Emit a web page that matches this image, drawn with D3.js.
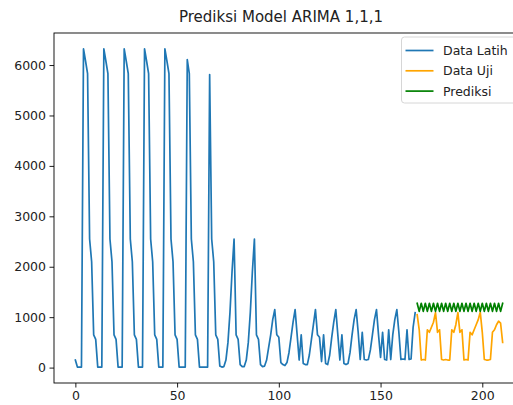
<!DOCTYPE html>
<html>
<head>
<meta charset="utf-8">
<script src="https://cdn.jsdelivr.net/npm/d3@7"></script>
<style>
  body { margin: 0; background: #fff; }
  svg { display: block; font-family: "DejaVu Sans", sans-serif; }
</style>
</head>
<body>
<script>
// training data (index 0..167)
var dataLatih = [
  150, 10, 10, 10,
  6320, 6080, 5830, 2550, 2100, 650, 560, 10, 10, 10,
  6320, 6080, 5830, 2550, 2100, 650, 560, 10, 10, 10,
  6320, 6080, 5830, 2550, 2100, 650, 560, 10, 10, 10,
  6320, 6080, 5830, 2550, 2100, 650, 560, 10, 10, 10,
  6320, 6080, 5830, 2550, 2100, 650, 560, 10, 10, 10, 10,
  6110, 5830, 2550, 2100, 650, 560, 10, 10, 10, 10, 10,
  5810, 2550, 2100, 650, 560, 30, 10, 20, 150, 500, 1100, 1900,
  2550, 650, 560, 60, 20, 20, 150, 500, 1100, 1900,
  2550, 650, 560, 60, 20, 30, 150, 400, 650, 950,
  1150, 650, 600, 100, 60, 40, 100, 300, 600, 900,
  1150, 650, 150, 650, 80, 60, 60, 250, 550, 850,
  1150, 650, 600, 120, 650, 80, 60, 250, 600, 900,
  1150, 650, 150, 650, 80, 60, 80, 300, 650, 950,
  1150, 700, 160, 700, 160, 150, 160, 350, 650, 950,
  1150, 650, 200, 700, 160, 150, 750, 160, 650, 950,
  1150, 700, 160, 170, 160, 750, 160, 170, 800, 1090
];

// test data (index 168..210)
var dataUji = [
  1050, 750, 150, 160, 150, 750, 700, 800, 900, 1090,
  700, 750, 160, 150, 160, 150, 150, 750, 700, 850, 1090,
  700, 750, 150, 160, 150, 700, 650, 750, 850, 950, 1100,
  700, 160, 150, 150, 160, 700, 750, 850, 920, 880, 500
];

// ARIMA(1,1,1) forecast for the test range
var prediksi = [
  1275, 1115, 1275, 1115, 1275, 1115, 1275, 1115, 1275, 1115,
  1275, 1115, 1275, 1115, 1275, 1115, 1275, 1115, 1275, 1115,
  1275, 1115, 1275, 1115, 1275, 1115, 1275, 1115, 1275, 1115,
  1275, 1115, 1275, 1115, 1275, 1115, 1275, 1115, 1275, 1115,
  1275, 1115, 1275
];

var xTicks = [0, 50, 100, 150, 200];
var yTicks = [0, 1000, 2000, 3000, 4000, 5000, 6000];
var seriesNames = ["Data Latih", "Data Uji", "Prediksi"];
var seriesColors = ["#1f77b4", "orange", "green"];

window.onload = drawChart;

function drawChart() {
    var width = 513, height = 405;
    var left = 54, right = 524, top = 33, bottom = 383;

    var offset = dataLatih.length;
    var train = dataLatih.map(function(v, i) { return [i, v]; });
    var test = dataUji.map(function(v, i) { return [offset + i, v]; });
    var pred = prediksi.map(function(v, i) { return [offset + i, v]; });
    var all = train.concat(test, pred);

    // matplotlib style 5% margins
    var xExt = d3.extent(all, function(d) { return d[0]; });
    var yExt = d3.extent(all, function(d) { return d[1]; });
    var xPad = (xExt[1] - xExt[0]) * 0.05, yPad = (yExt[1] - yExt[0]) * 0.05;

    var x = d3.scaleLinear().domain([xExt[0] - xPad, xExt[1] + xPad]).range([left, right]);
    var y = d3.scaleLinear().domain([yExt[0] - yPad, yExt[1] + yPad]).range([bottom, top]);

    var svg = d3.select("body").append("svg")
        .attr("width", width)
        .attr("height", height);

    var line = d3.line()
        .x(function(d) { return x(d[0]); })
        .y(function(d) { return y(d[1]); });

    [train, test, pred].forEach(function(s, k) {
        svg.append("path")
            .datum(s)
            .attr("d", line)
            .attr("fill", "none")
            .attr("stroke", seriesColors[k])
            .attr("stroke-width", 1.7)
            .attr("stroke-linejoin", "round")
            .attr("stroke-linecap", "square");
    });

    // axes
    var xAxis = svg.append("g")
        .attr("transform", "translate(0," + bottom + ")")
        .call(d3.axisBottom(x).tickValues(xTicks).tickFormat(d3.format("d"))
            .tickSize(4.5).tickPadding(3.5));
    var yAxis = svg.append("g")
        .attr("transform", "translate(" + left + ",0)")
        .call(d3.axisLeft(y).tickValues(yTicks).tickFormat(d3.format("d"))
            .tickSize(4.5).tickPadding(3.5));

    [xAxis, yAxis].forEach(function(g) {
        g.select(".domain").remove();
        g.selectAll("line").attr("stroke", "#000").attr("stroke-width", 0.9);
        g.selectAll("text").attr("fill", "#222").style("font-size", "12.5px")
            .style("font-family", "DejaVu Sans");
    });

    // frame
    svg.append("rect")
        .attr("x", left).attr("y", top)
        .attr("width", right - left).attr("height", bottom - top)
        .attr("fill", "none")
        .attr("stroke", "#000")
        .attr("stroke-width", 0.9);

    svg.append("text")
        .attr("x", 281)
        .attr("y", 22)
        .attr("text-anchor", "middle")
        .attr("fill", "#222")
        .style("font-size", "15px")
        .text("Prediksi Model ARIMA 1,1,1");

    // legend
    var lg = svg.append("g").attr("transform", "translate(401.5,37)");
    lg.append("rect")
        .attr("width", 118).attr("height", 66)
        .attr("rx", 3)
        .attr("fill", "#fff").attr("fill-opacity", 0.8)
        .attr("stroke", "#d6d6d6");
    seriesNames.forEach(function(name, i) {
        var ly = 13.5 + i * 20.3;
        lg.append("line")
            .attr("x1", 4).attr("x2", 32)
            .attr("y1", ly).attr("y2", ly)
            .attr("stroke", seriesColors[i])
            .attr("stroke-width", 1.7);
        lg.append("text")
            .attr("x", 41.5).attr("y", ly + 4.5)
            .attr("fill", "#222")
            .style("font-size", "12.5px")
            .text(name);
    });
}
</script>
</body>
</html>
